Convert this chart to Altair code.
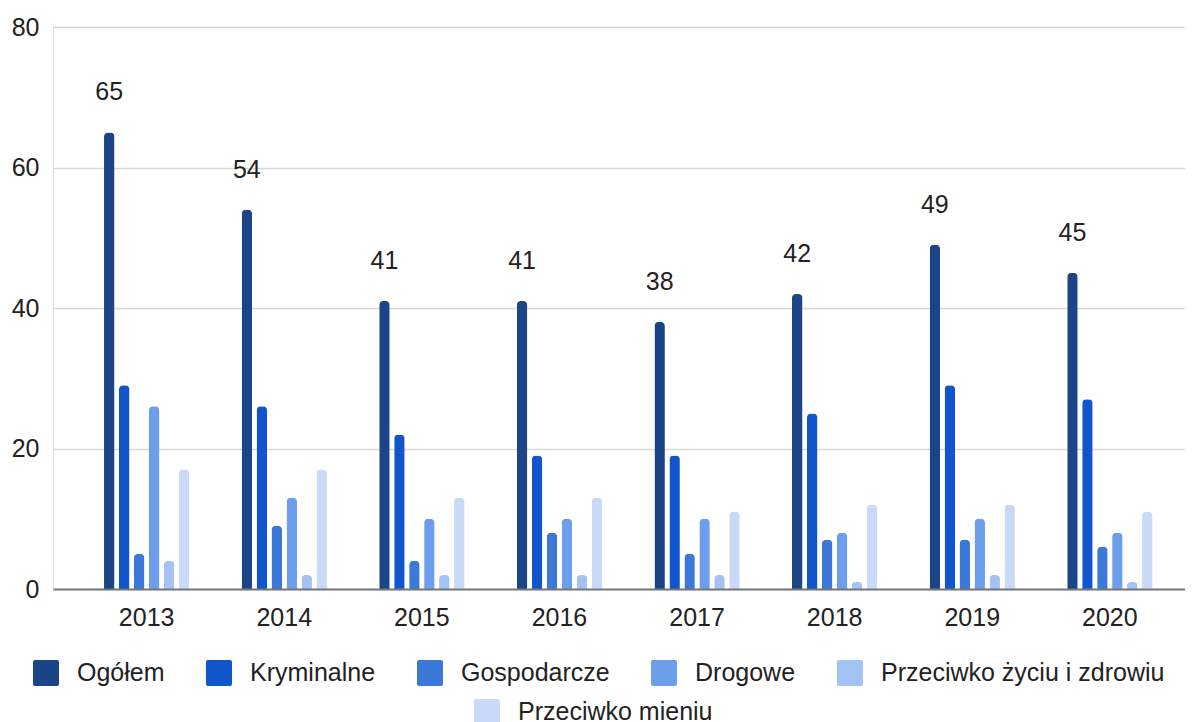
import altair as alt
import pandas as pd

years = ["2013", "2014", "2015", "2016", "2017", "2018", "2019", "2020"]
categories = ["Ogółem", "Kryminalne", "Gospodarcze", "Drogowe",
              "Przeciwko życiu i zdrowiu", "Przeciwko mieniu"]
colors = ["#1c4587", "#1155cc", "#3c78d8", "#6d9eeb", "#a4c2f4", "#c9daf8"]

ogolem = [65, 54, 41, 41, 38, 42, 49, 45]
kryminalne = [29, 26, 22, 19, 19, 25, 29, 27]
gospodarcze = [5, 9, 4, 8, 5, 7, 7, 6]
drogowe = [26, 13, 10, 10, 10, 8, 10, 8]
zycie_zdrowie = [4, 2, 2, 2, 2, 1, 2, 1]
mienie = [17, 17, 13, 13, 11, 12, 12, 11]
y_ticks = [0, 20, 40, 60, 80]

series = [ogolem, kryminalne, gospodarcze, drogowe, zycie_zdrowie, mienie]
rows = []
for cat, vals in zip(categories, series):
    for yr, v in zip(years, vals):
        rows.append({"rok": yr, "kategoria": cat, "wartosc": v})
df = pd.DataFrame(rows)

FONT = "Liberation Sans"
TXT = "#222222"
W, H = 1132, 562

x_enc = alt.X(
    "rok:N", sort=years,
    scale=alt.Scale(paddingInner=0.38, paddingOuter=0.3034, align=0.611),
    axis=alt.Axis(title=None, labelAngle=0, labelFontSize=25, labelColor=TXT,
                  labelFont=FONT, labelPadding=16, ticks=False, grid=False,
                  domainColor="#777777", domainWidth=2, zindex=1),
)
y_enc = alt.Y(
    "wartosc:Q",
    scale=alt.Scale(domain=[0, 80], nice=False),
    axis=alt.Axis(title=None, values=y_ticks, labelFontSize=25, labelColor=TXT,
                  labelFont=FONT, labelPadding=14, ticks=False, domain=False,
                  gridColor="#d9d9d9", gridWidth=1.5, zindex=0),
)
xo_enc = alt.XOffset(
    "kategoria:N", sort=categories,
    scale=alt.Scale(domain=categories, paddingInner=0.3, paddingOuter=0),
)

SYM = ("M-0.85,-1H0.85Q1,-1 1,-0.85V0.85Q1,1 0.85,1H-0.85Q-1,1 -1,0.85"
       "V-0.85Q-1,-1 -0.85,-1Z")

def legend(lx, ly):
    return alt.Legend(
        title=None, orient="none", legendX=lx, legendY=ly,
        direction="horizontal", symbolType=SYM, symbolSize=676,
        symbolStrokeWidth=0, labelFontSize=25, labelFont=FONT,
        labelColor=TXT, labelOffset=18, columnPadding=41, padding=0,
        labelLimit=500,
    )

base = alt.Chart(df)

bars_main = base.transform_filter(
    alt.datum.kategoria != "Przeciwko mieniu"
).mark_bar(cornerRadiusTopLeft=4, cornerRadiusTopRight=4).encode(
    x=x_enc, y=y_enc, xOffset=xo_enc,
    color=alt.Color("kategoria:N",
                    scale=alt.Scale(domain=categories[:5], range=colors[:5]),
                    legend=legend(-20, 633)),
)

bars_last = base.transform_filter(
    alt.datum.kategoria == "Przeciwko mieniu"
).mark_bar(cornerRadiusTopLeft=4, cornerRadiusTopRight=4).encode(
    x=x_enc, y=y_enc, xOffset=xo_enc,
    fill=alt.Fill("kategoria:N",
                  scale=alt.Scale(domain=categories[5:], range=colors[5:]),
                  legend=legend(421, 672)),
)

labels = base.transform_filter(
    alt.datum.kategoria == "Ogółem"
).mark_text(fontSize=25, font=FONT, color=TXT, dy=-32, baseline="alphabetic",
            align="center").encode(
    x=x_enc, y=y_enc, xOffset=xo_enc, text="wartosc:Q",
)

chart = alt.layer(bars_main, bars_last, labels).properties(
    width=W, height=H,
    autosize=alt.AutoSizeParams(type="none"),
    padding={"left": 45, "top": 19, "right": 0, "bottom": 140},
).configure_view(stroke=None).configure(font=FONT)

chart.save("out.html", embed_options={"renderer": "svg", "actions": False})
